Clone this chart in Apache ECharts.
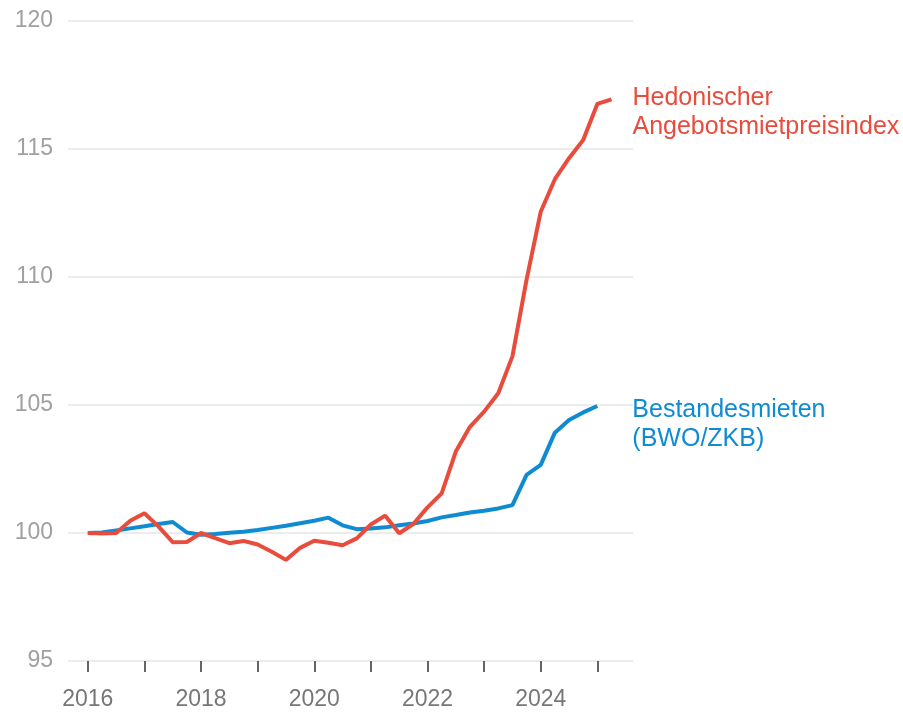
<!DOCTYPE html>
<html lang="de">
<head>
    <meta charset="UTF-8">
    <title>Mietpreisindex</title>
    <script src="https://cdn.jsdelivr.net/npm/echarts@6/dist/echarts.min.js"></script>
    <style>
        html, body { margin: 0; padding: 0; background: #fff; }
        #chart { width: 903px; height: 712px; }
    </style>
</head>
<body>
<div id="chart"></div>
<script>
    // Quartale ab 2016 (Index 2016 = 100)
    const quarters = [
        2016.00, 2016.25, 2016.50, 2016.75, 2017.00, 2017.25, 2017.50, 2017.75,
        2018.00, 2018.25, 2018.50, 2018.75, 2019.00, 2019.25, 2019.50, 2019.75,
        2020.00, 2020.25, 2020.50, 2020.75, 2021.00, 2021.25, 2021.50, 2021.75,
        2022.00, 2022.25, 2022.50, 2022.75, 2023.00, 2023.25, 2023.50, 2023.75,
        2024.00, 2024.25, 2024.50, 2024.75, 2025.00, 2025.25
    ];
    const hedonisch = [
        100.00, 99.98, 100.00, 100.48, 100.77, 100.25, 99.64, 99.65,
        100.00, 99.80, 99.60, 99.69, 99.55, 99.27, 98.95, 99.42,
        99.70, 99.62, 99.52, 99.79, 100.33, 100.68, 99.99, 100.35,
        101.00, 101.55, 103.18, 104.15, 104.74, 105.46, 106.90, 109.90,
        112.55, 113.82, 114.64, 115.35, 116.76, 116.94
    ];
    const bestand = [
        100.00, 100.02, 100.10, 100.18, 100.26, 100.35, 100.43, 100.02,
        99.93, 99.96, 100.01, 100.05, 100.12, 100.20, 100.28, 100.38,
        100.48, 100.60, 100.30, 100.15, 100.18, 100.22, 100.30, 100.37,
        100.47, 100.61, 100.70, 100.80, 100.87, 100.96, 101.09, 102.27,
        102.66, 103.92, 104.41, 104.71, 104.96
    ];
    const tickYears = [2016, 2017, 2018, 2019, 2020, 2021, 2022, 2023, 2024, 2025];
    const labelYears = [2016, 2018, 2020, 2022, 2024];

    const rot = '#e84c3d';
    const blau = '#0f8bd2';
    const font = '"Liberation Sans", Arial, Helvetica, sans-serif';

    function pairs(xs, ys) {
        return ys.map((v, i) => [xs[i], v]);
    }

    const chart = echarts.init(document.getElementById('chart'));
    chart.setOption({
        animation: false,
        backgroundColor: '#fff',
        textStyle: { fontFamily: font },
        grid: { left: 68, right: 270, top: 21, bottom: 51, outerBoundsMode: 'none' },
        xAxis: {
            type: 'value',
            min: 2015.65,
            max: 2025.63,
            axisLine: { show: false },
            splitLine: { show: false },
            axisTick: {
                show: true,
                customValues: tickYears,
                length: 11,
                lineStyle: { color: '#333', width: 1.5 }
            },
            axisLabel: {
                customValues: labelYears,
                formatter: v => String(v),
                color: '#777',
                fontSize: 23,
                margin: 27,
                fontFamily: font
            }
        },
        yAxis: {
            type: 'value',
            min: 95,
            max: 120,
            interval: 5,
            axisLine: { show: false },
            axisTick: { show: false },
            axisLabel: { color: '#a0a0a0', fontSize: 23, margin: 15, fontFamily: font },
            splitLine: { lineStyle: { color: '#e6e6e6', width: 1.5 } }
        },
        series: [
            {
                name: 'Hedonischer Angebotsmietpreisindex',
                type: 'line',
                data: pairs(quarters, hedonisch),
                showSymbol: false,
                lineStyle: { color: rot, width: 4 },
                itemStyle: { color: rot },
                z: 3,
                endLabel: {
                    show: true,
                    formatter: 'Hedonischer\nAngebotsmietpreisindex',
                    color: rot,
                    fontSize: 25,
                    lineHeight: 29,
                    fontFamily: font,
                    distance: 21,
                    offset: [0, 13],
                    align: 'left'
                }
            },
            {
                name: 'Bestandesmieten (BWO/ZKB)',
                type: 'line',
                data: pairs(quarters, bestand),
                showSymbol: false,
                lineStyle: { color: blau, width: 4 },
                itemStyle: { color: blau },
                z: 2,
                endLabel: {
                    show: true,
                    formatter: 'Bestandesmieten\n(BWO/ZKB)',
                    color: blau,
                    fontSize: 25,
                    lineHeight: 29,
                    fontFamily: font,
                    distance: 35,
                    offset: [0, 19],
                    align: 'left'
                }
            }
        ]
    });
</script>
</body>
</html>
